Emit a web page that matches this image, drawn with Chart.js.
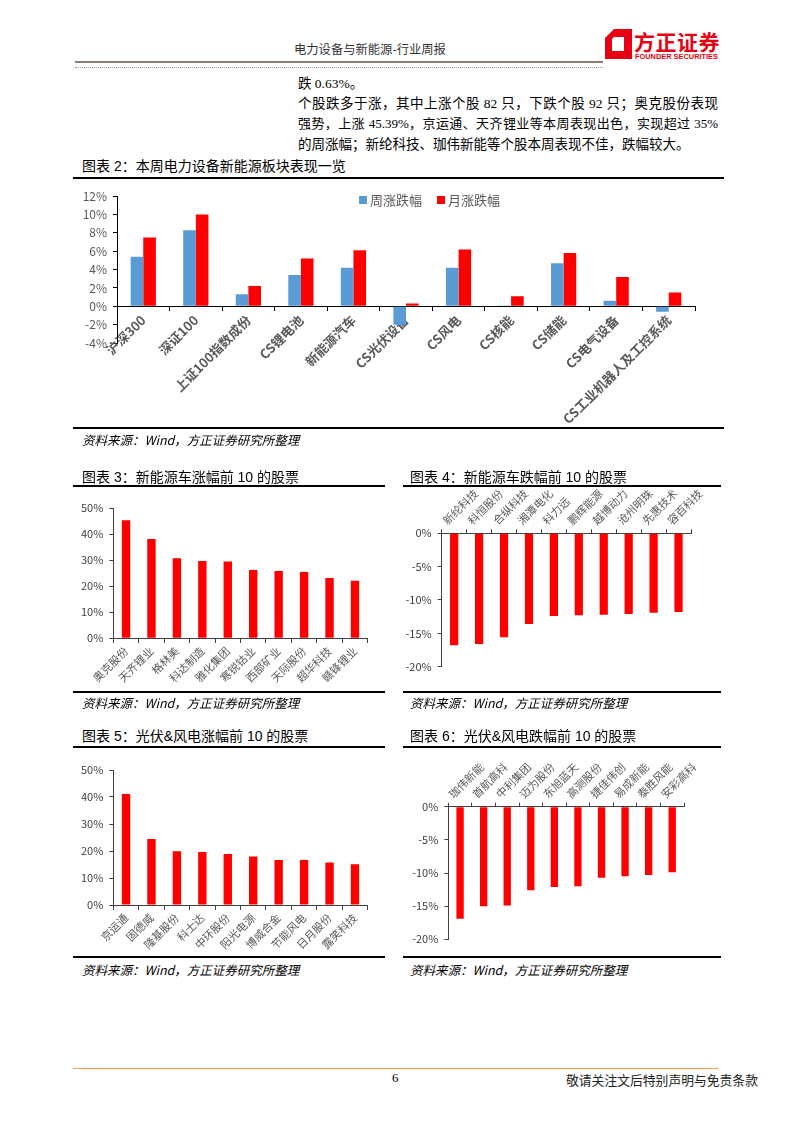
<!DOCTYPE html>
<html lang="zh-CN">
<head>
<meta charset="utf-8">
<title>电力设备与新能源-行业周报</title>
<script src="https://cdn.jsdelivr.net/npm/chart.js@4.4.1/dist/chart.umd.min.js"></script>
<style>
  html, body { margin: 0; padding: 0; background: #fff; }
  body { position: relative; width: 793px; height: 1122px; overflow: hidden;
         font-family: "Liberation Serif", "Noto Sans CJK SC", serif; color: #000; }
  .abs { position: absolute; white-space: nowrap; }
  .line { position: absolute; height: 0; }
  canvas { position: absolute; }
  .cap { position: absolute; white-space: nowrap; font-family: "Liberation Sans", "Noto Sans CJK SC", sans-serif;
         font-size: 14px; line-height: 18px; }
  .src { position: absolute; white-space: nowrap; font-family: "Liberation Sans Narrow", "Noto Sans CJK SC", sans-serif;
         font-size: 12.5px; line-height: 16px; font-style: italic; }
  .txt { position: absolute; left: 298px; width: 420px; font-size: 13.5px; line-height: 18px;
         text-align: justify; text-align-last: justify; }
  .lg { position: absolute; font-family: "Noto Sans CJK SC", sans-serif; font-size: 13px; line-height: 16px; color: #595959; }
  .lg i { display: inline-block; width: 8px; height: 8px; margin-right: 3px; vertical-align: 1px; }
</style>
</head>
<body>

<!-- 页眉 -->
<div class="abs" style="left:294px;top:40px;font-family:'Noto Sans CJK SC',sans-serif;font-size:12.3px;line-height:18px;color:#333">电力设备与新能源-行业周报</div>
<svg class="abs" style="left:605px;top:29px" width="27" height="30" viewBox="0 0 27 30">
  <path d="M9 0 H27 V30 H0 V9 Z M9 8 L7 10 V22 H19 V8 Z" fill="#e60012" fill-rule="evenodd"/>
</svg>
<div class="abs" style="left:634px;top:28px;font-family:'Noto Sans CJK SC',sans-serif;font-weight:bold;font-size:21px;line-height:26px;color:#e60012;letter-spacing:0.5px">方正证券</div>
<div class="abs" style="left:635px;top:52px;font-family:'Liberation Sans',sans-serif;font-weight:bold;font-size:7.4px;line-height:9px;color:#e60012">FOUNDER SECURITIES</div>
<div class="line" style="left:75px;top:61px;width:528px;border-top:2px solid #8c7d6e"></div>
<div class="line" style="left:75px;top:67px;width:528px;border-top:1px dotted #9a9a9a"></div>

<!-- 正文 -->
<div class="txt" style="top:75px;text-align-last:left">跌 0.63%。</div>
<div class="txt" style="top:95px">个股跌多于涨，其中上涨个股 82 只，下跌个股 92 只；奥克股份表现</div>
<div class="txt" style="top:115px;font-size:13px">强势，上涨 45.39%，京运通、天齐锂业等本周表现出色，实现超过 35%</div>
<div class="txt" style="top:136px;text-align-last:left">的周涨幅；新纶科技、珈伟新能等个股本周表现不佳，跌幅较大。</div>

<!-- 图表 2 -->
<div class="cap" style="left:82px;top:157px">图表 2：本周电力设备新能源板块表现一览</div>
<div class="line" style="left:73px;top:177px;width:651px;border-top:2px solid #000"></div>
<canvas id="chart-sector" width="650" height="245" style="left:73px;top:183px"></canvas>
<div class="lg" style="left:359px;top:192px"><i style="background:#5b9bd5"></i>周涨跌幅</div>
<div class="lg" style="left:437px;top:192px"><i style="background:#ff0000"></i>月涨跌幅</div>
<div class="line" style="left:73px;top:427px;width:651px;border-top:2px solid #000"></div>
<div class="src" style="left:82px;top:432px">资料来源：Wind，方正证券研究所整理</div>

<!-- 图表 3 / 4 -->
<div class="cap" style="left:82px;top:468px">图表 3：新能源车涨幅前 10 的股票</div>
<div class="line" style="left:73px;top:485px;width:312px;border-top:2px solid #000"></div>
<div class="cap" style="left:410px;top:468px">图表 4：新能源车跌幅前 10 的股票</div>
<div class="line" style="left:403px;top:485px;width:318px;border-top:2px solid #000"></div>
<canvas id="chart-ev-up" width="317" height="197" style="left:73px;top:495px"></canvas>
<canvas id="chart-ev-down" width="315" height="205" style="left:405px;top:480px"></canvas>
<div class="line" style="left:73px;top:691px;width:312px;border-top:2px solid #000"></div>
<div class="line" style="left:403px;top:691px;width:318px;border-top:2px solid #000"></div>
<div class="src" style="left:82px;top:695px">资料来源：Wind，方正证券研究所整理</div>
<div class="src" style="left:410px;top:695px">资料来源：Wind，方正证券研究所整理</div>

<!-- 图表 5 / 6 -->
<div class="cap" style="left:82px;top:727px">图表 5：光伏&amp;风电涨幅前 10 的股票</div>
<div class="line" style="left:73px;top:746px;width:312px;border-top:2px solid #000"></div>
<div class="cap" style="left:410px;top:727px">图表 6：光伏&amp;风电跌幅前 10 的股票</div>
<div class="line" style="left:403px;top:746px;width:318px;border-top:2px solid #000"></div>
<canvas id="chart-pv-up" width="317" height="200" style="left:73px;top:752px"></canvas>
<canvas id="chart-pv-down" width="315" height="205" style="left:405px;top:750px"></canvas>
<div class="line" style="left:73px;top:956px;width:312px;border-top:2px solid #000"></div>
<div class="line" style="left:403px;top:956px;width:318px;border-top:2px solid #000"></div>
<div class="src" style="left:82px;top:962px">资料来源：Wind，方正证券研究所整理</div>
<div class="src" style="left:410px;top:962px">资料来源：Wind，方正证券研究所整理</div>

<!-- 页脚 -->
<div class="line" style="left:73px;top:1068px;width:645px;border-top:1.5px solid #f0a05a"></div>
<div class="abs" style="left:392px;top:1070px;font-size:13px;line-height:16px">6</div>
<div class="abs" style="left:566px;top:1071px;font-family:'Noto Sans CJK SC',sans-serif;font-size:12.8px;line-height:18px;color:#222">敬请关注文后特别声明与免责条款</div>

<script>
// ── 数据 ─────────────────────────────────────────────
const sectorNames = ['沪深300', '深证100', '上证100指数成份', 'CS锂电池', '新能源汽车', 'CS光伏设备',
                     'CS风电', 'CS核能', 'CS储能', 'CS电气设备', 'CS工业机器人及工控系统'];
const sectorWeek  = [5.4, 8.3, 1.3, 3.4, 4.2, -2.0, 4.2, 0.1, 4.7, 0.6, -0.6];
const sectorMonth = [7.5, 10.0, 2.2, 5.2, 6.1, 0.3, 6.2, 1.1, 5.8, 3.2, 1.5];

const evUpNames   = ['奥克股份', '天齐锂业', '格林美', '科达制造', '雅化集团', '寒锐钴业', '西部矿业', '天际股份', '超华科技', '赣锋锂业'];
const evUpPct     = [45.4, 38.2, 30.8, 29.7, 29.5, 26.3, 25.9, 25.5, 23.2, 22.1];
const evDownNames = ['新纶科技', '科恒股份', '合纵科技', '湘潭电化', '科力远', '鹏辉能源', '越博动力', '沧州明珠', '先惠技术', '容百科技'];
const evDownPct   = [-16.8, -16.6, -15.6, -13.6, -12.4, -12.3, -12.2, -12.1, -11.9, -11.8];

const pvUpNames   = ['京运通', '固德威', '隆基股份', '科士达', '中环股份', '阳光电源', '博威合金', '节能风电', '日月股份', '露笑科技'];
const pvUpPct     = [41.1, 24.4, 19.9, 19.6, 18.9, 18.0, 16.7, 16.7, 15.7, 15.1];
const pvDownNames = ['珈伟新能', '首航高科', '中利集团', '迈为股份', '东旭蓝天', '高测股份', '捷佳伟创', '易成新能', '泰胜风能', '安彩高科'];
const pvDownPct   = [-16.9, -15.0, -14.9, -12.6, -12.1, -12.0, -10.7, -10.5, -10.3, -9.9];

const upTicks   = { min: 0, max: 50, step: 10 };
const downTicks = { min: -20, max: 0, step: 5 };

// ── 通用 ─────────────────────────────────────────────
Chart.defaults.font.family = '"Noto Sans CJK SC", sans-serif';
const RED  = '#ff0000';
const BLUE = '#5b9bd5';
const pct  = v => v + '%';

function barChart(id, labels, datasets, o) {
    const x = {
        position: o.xPos,
        offset: true,
        grid: { offset: true, drawOnChartArea: false, tickLength: 4, color: o.axis },
        border: { color: o.axis },
        ticks: { autoSkip: false, minRotation: 45, maxRotation: 45, padding: 2,
                 color: '#595959', font: o.xFont }
    };
    if (o.xHeight) x.afterFit = s => { s.height = o.xHeight; };
    return new Chart(document.getElementById(id), {
        type: 'bar',
        data: { labels, datasets },
        options: {
            responsive: false,
            animation: false,
            layout: { padding: o.pad },
            plugins: { legend: { display: false }, tooltip: { enabled: false } },
            datasets: { bar: { categoryPercentage: o.cat, barPercentage: o.bar } },
            scales: {
                x,
                y: {
                    min: o.y.min, max: o.y.max,
                    grid: { drawOnChartArea: false, tickLength: 4, color: o.axis },
                    border: { color: o.axis },
                    ticks: { stepSize: o.y.step, callback: pct, padding: 6, color: o.yColor, font: o.yFont },
                    afterFit: s => { s.width = o.yWidth; }
                }
            }
        }
    });
}

// ── 图表 2：板块表现 ─────────────────────────────────
barChart('chart-sector', sectorNames, [
    { label: '周涨跌幅', data: sectorWeek,  backgroundColor: BLUE },
    { label: '月涨跌幅', data: sectorMonth, backgroundColor: RED }
], {
    xPos: { y: 0 }, axis: '#000', cat: 0.48, bar: 1,
    xFont: { size: 13, weight: 'bold' }, yFont: { size: 12 }, yColor: '#595959',
    y: { min: -4, max: 12, step: 2 }, yWidth: 44,
    pad: { left: 0, top: 9.5, right: 28, bottom: 85 }
});

// ── 图表 3 / 5：涨幅前 10 ─────────────────────────────
const upOpts = {
    xPos: { y: 0 }, axis: '#404040', cat: 1, bar: 0.33,
    xFont: { size: 11 }, yFont: { size: 11 }, yColor: '#404040',
    y: upTicks, yWidth: 40.3
};
barChart('chart-ev-up', evUpNames, [{ label: '涨幅', data: evUpPct, backgroundColor: RED }],
    { ...upOpts, pad: { left: 0, top: 13.3, right: 22.3, bottom: 53.7 } });
barChart('chart-pv-up', pvUpNames, [{ label: '涨幅', data: pvUpPct, backgroundColor: RED }],
    { ...upOpts, pad: { left: 0, top: 18, right: 22.3, bottom: 47 } });

// ── 图表 4 / 6：跌幅前 10 ─────────────────────────────
const downOpts = {
    xPos: 'top', axis: '#404040', cat: 1,
    xFont: { size: 11 }, yFont: { size: 11 }, yColor: '#404040',
    y: downTicks
};
barChart('chart-ev-down', evDownNames, [{ label: '跌幅', data: evDownPct, backgroundColor: RED }],
    { ...downOpts, bar: 0.33, yWidth: 36.7, xHeight: 53.3, pad: { left: 0, top: 0, right: 29, bottom: 18.3 } });
barChart('chart-pv-down', pvDownNames, [{ label: '跌幅', data: pvDownPct, backgroundColor: RED }],
    { ...downOpts, bar: 0.31, yWidth: 43.3, xHeight: 56.7, pad: { left: 0, top: 0, right: 36, bottom: 15.7 } });
</script>
</body>
</html>
